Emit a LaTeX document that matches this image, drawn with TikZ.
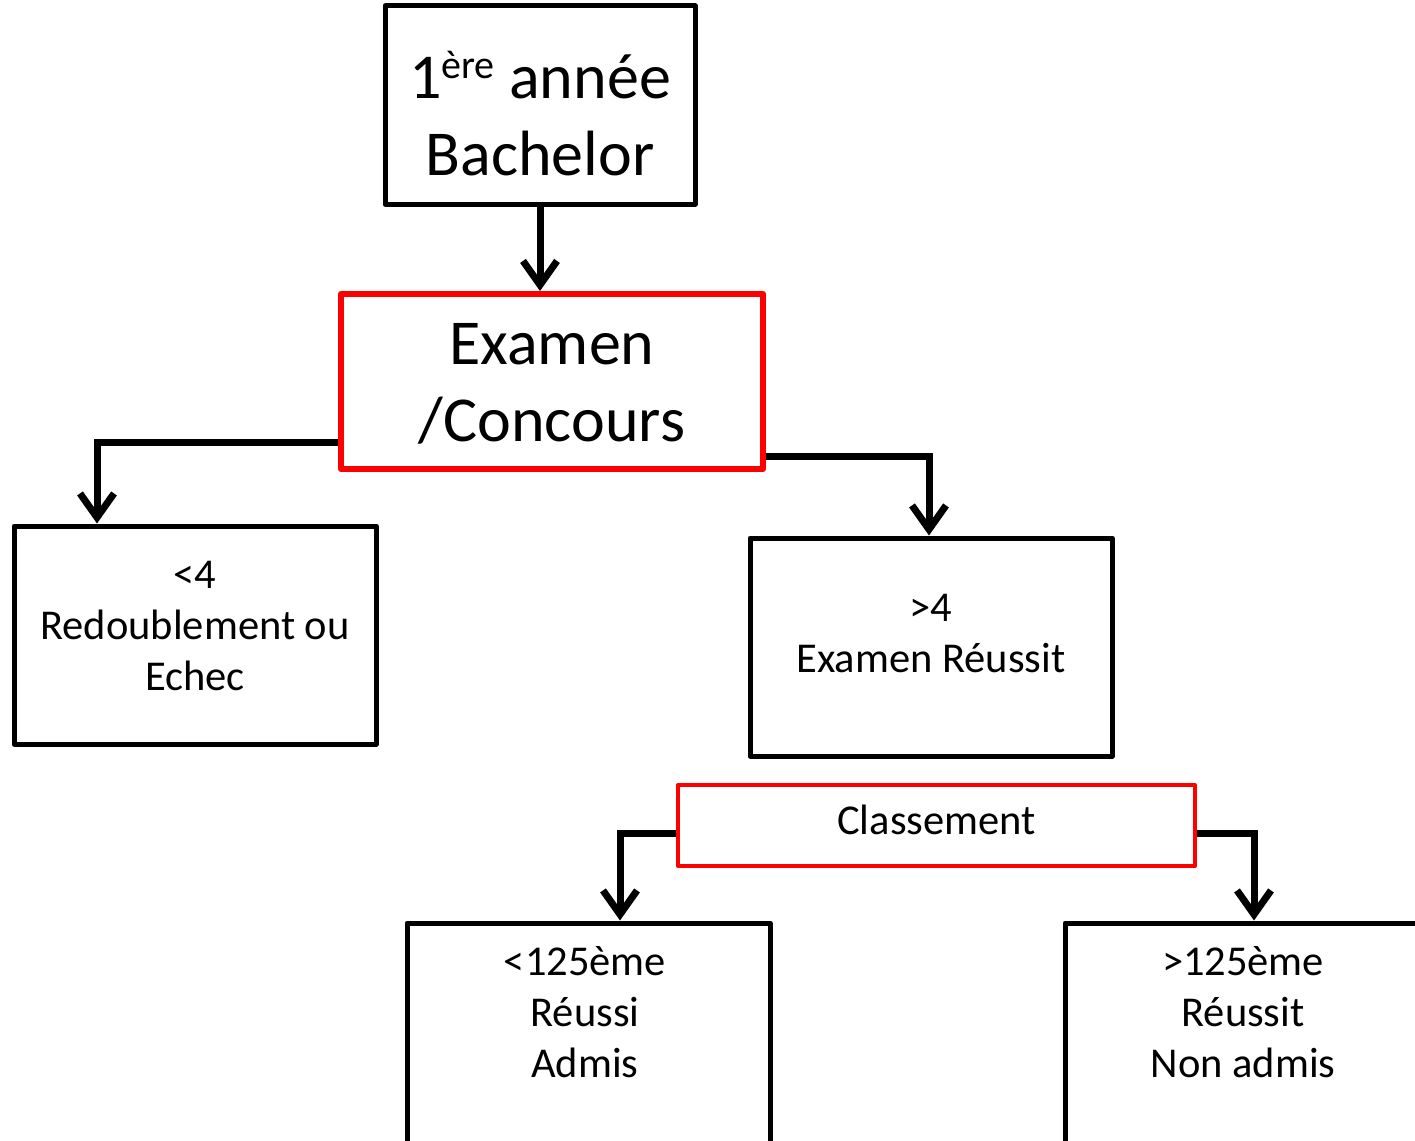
\documentclass[tikz,border=0pt]{standalone}
\usepackage{fontspec}
\setmainfont{Carlito}
\usetikzlibrary{arrows.meta}
\begin{document}
\begin{tikzpicture}[x=1pt,y=-1pt,
  box/.style={draw=black, line width=5pt, line join=round, inner sep=0pt},
  redbox/.style={draw=red, line width=6pt, line join=round, inner sep=0pt},
  bigtxt/.style={font=\fontsize{64}{77}\selectfont, align=center, inner sep=0pt},
  medtxt/.style={font=\fontsize{42.5}{51}\selectfont, align=center, inner sep=0pt},
  conn/.style={line width=7pt, -{Straight Barb[length=24pt,width=34pt,line width=7pt]}}
]
\useasboundingbox (0,0) rectangle (1415,1140);
\clip (0,0) rectangle (1415,1140);
% boxes
\node[box, minimum width=310pt, minimum height=198pt] (top) at (540,105) {};
\node[redbox, minimum width=422pt, minimum height=175pt] (exam) at (552,381.5) {};
\node[box, minimum width=362pt, minimum height=218pt] (left) at (195,635) {};
\node[box, minimum width=362pt, minimum height=218pt] (right) at (931,647) {};
\node[redbox, line width=4pt, minimum width=517pt, minimum height=81pt] (class) at (936.5,825.5) {};
\node[box, minimum width=363pt, minimum height=257pt] (bl) at (588.5,1051.5) {};
\node[box, minimum width=360pt, minimum height=257pt] (br) at (1245,1051.5) {};
% texts
\node[bigtxt, anchor=north] (ttop) at (540,51) {1{\fontsize{40}{40}\selectfont\raisebox{20pt}{ère}} année\\Bachelor};
\node[bigtxt, anchor=north] (texam) at (552,323) {Examen\\/Concours};
\node[medtxt, anchor=north] (tleft) at (195,561) {<4\\Redoublement ou\\Echec};
\node[medtxt, anchor=north] (tright) at (931,594.5) {>4\\Examen Réussit};
\node[medtxt, anchor=base] (tclass) at (936.5,834) {Classement};
\node[medtxt, anchor=north] (tbl) at (585,946) {<125ème\\Réussi\\Admis};
\node[medtxt, anchor=north] (tbr) at (1243,946) {>125ème\\Réussit\\Non admis};
% connectors
\draw[conn] (top.south) -- (top.south |- exam.north);
\draw[conn] ([yshift=-60.5pt]exam.west) -| ([xshift=-98pt]left.north);
\draw[conn] ([yshift=-74.5pt]exam.east) -| ([xshift=-2pt]right.north);
\draw[conn] ([yshift=-7.5pt]class.west) -| ([xshift=31.5pt]bl.north);
\draw[conn] ([yshift=-7.5pt]class.east) -| ([xshift=9pt]br.north);
\end{tikzpicture}
\end{document}
